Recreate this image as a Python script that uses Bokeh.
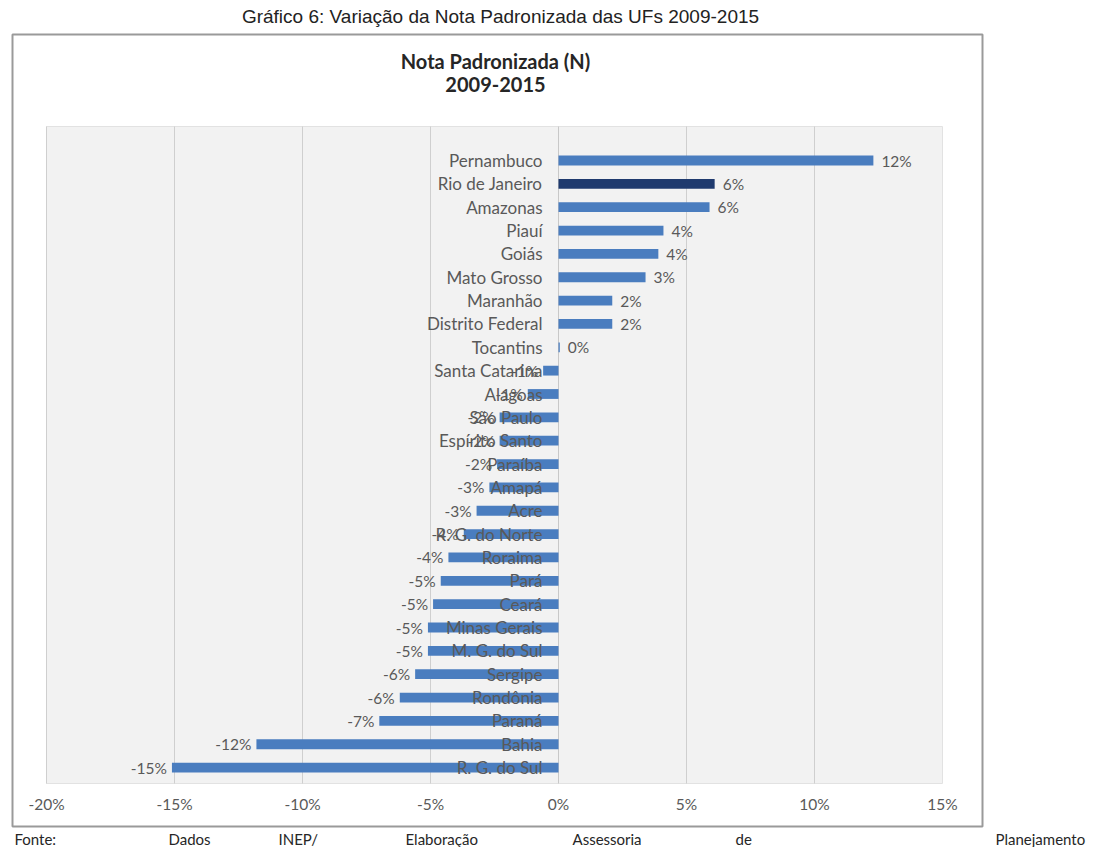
from bokeh.plotting import figure
from bokeh.models import Range1d, LinearAxis, FixedTicker, PrintfTickFormatter, BoxAnnotation, Label, ColumnDataSource
from bokeh.core.properties import value
from bokeh.embed import file_html
from bokeh.resources import INLINE

# ---------------- data ----------------
states = ["Pernambuco", "Rio de Janeiro", "Amazonas", "Piauí", "Goiás", "Mato Grosso",
          "Maranhão", "Distrito Federal", "Tocantins", "Santa Catarina", "Alagoas",
          "São Paulo", "Espírito Santo", "Paraíba", "Amapá", "Acre", "R. G. do Norte",
          "Roraima", "Pará", "Ceará", "Minas Gerais", "M. G. do Sul", "Sergipe",
          "Rondônia", "Paraná", "Bahia", "R. G. do Sul"]
variation = [12.3, 6.1, 5.9, 4.1, 3.9, 3.4, 2.1, 2.1, 0.05, -0.6, -1.2,
             -2.3, -2.3, -2.4, -2.7, -3.2, -3.7, -4.3, -4.6, -4.9, -5.1,
             -5.1, -5.6, -6.2, -7.0, -11.8, -15.1]
highlight = "Rio de Janeiro"
x_ticks = [-20, -15, -10, -5, 0, 5, 10, 15]
grid_ticks = [-20, -15, -10, -5, 5, 10]
caption = "Gráfico 6: Variação da Nota Padronizada das UFs 2009-2015"
title_lines = ["Nota Padronizada (N)", "2009-2015"]
footer_words = ["Fonte:", "Dados", "INEP/", "Elaboração", "Assessoria", "de", "Planejamento"]

# ---------------- layout constants (canvas pixels) ----------------
W, H = 1087, 847
BOX = (12, 982, 34, 826)                   # outer chart box: left, right, top, bottom
PX_X = 25.6                                # px per percent
ZERO_PX = 558                              # canvas x of 0%
ROW0_PX = 160                              # canvas y of first row
ROW_PX = 23.35                             # px per row


def X(px):
    return (px - ZERO_PX) / PX_X


def Y(py):
    return (py - ROW0_PX) / ROW_PX


gray_top = Y(126)
gray_bottom = Y(783)

BLUE = "#4a7dbf"
NAVY = "#1f3a6e"
TXT = "#595959"
FONT = "Lato"

ys = list(range(len(states)))
colors = [NAVY if s == highlight else BLUE for s in states]
labels = ["%d%%" % round(v) for v in variation]
pos = [v >= 0 for v in variation]

p = figure(width=W, height=H, output_backend="svg", toolbar_location=None,
           x_range=Range1d(X(0), X(W)), y_range=Range1d(Y(H), Y(0)),
           x_axis_location=None, y_axis_location=None,
           min_border=0, min_border_left=0, min_border_right=0,
           min_border_top=0, min_border_bottom=0)
p.xgrid.visible = False
p.ygrid.visible = False
p.outline_line_color = None
p.background_fill_color = "white"
p.border_fill_color = "white"

# outer chart box
p.add_layout(BoxAnnotation(left=X(BOX[0]), right=X(BOX[1]), top=Y(BOX[2]), bottom=Y(BOX[3]),
                           fill_color=None, line_color="#9a9a9a", line_alpha=1, line_width=2,
                           level="underlay"))
# plot area
p.add_layout(BoxAnnotation(left=x_ticks[0], right=x_ticks[-1], top=gray_top, bottom=gray_bottom,
                           fill_color="#f2f2f2", fill_alpha=1, line_color="#e2e2e2", line_alpha=1,
                           line_width=1, level="underlay"))
p.segment(x0=grid_ticks, x1=grid_ticks, y0=[gray_bottom] * len(grid_ticks),
          y1=[gray_top] * len(grid_ticks), line_color="#cfcfcf", line_width=1)
p.segment(x0=[0], x1=[0], y0=[gray_bottom], y1=[gray_top], line_color="#c8c8c8", line_width=1)

src = ColumnDataSource(dict(y=ys, v=variation, c=colors))
p.hbar(y="y", left=0, right="v", height=0.42, fill_color="c", line_color=None, source=src)

# category labels (drawn over the bars, as in the original)
p.text(x=[0] * len(states), y=ys, text=states, x_offset=-16, text_align="right",
       text_baseline="middle", text_font=value(FONT), text_font_size="17px", text_color=TXT)

# value labels
pos_src = ColumnDataSource(dict(y=[y for y, k in zip(ys, pos) if k],
                                v=[v for v, k in zip(variation, pos) if k],
                                lab=[l for l, k in zip(labels, pos) if k]))
neg_src = ColumnDataSource(dict(y=[y for y, k in zip(ys, pos) if not k],
                                v=[v for v, k in zip(variation, pos) if not k],
                                lab=[l for l, k in zip(labels, pos) if not k]))
p.text(x="v", y="y", text="lab", x_offset=8, text_align="left", text_baseline="middle",
       text_font=value(FONT), text_font_size="15.5px", text_color=TXT, source=pos_src)
p.text(x="v", y="y", text="lab", x_offset=-5, text_align="right", text_baseline="middle",
       text_font=value(FONT), text_font_size="15.5px", text_color=TXT, source=neg_src)

# x axis, drawn just under the plot area
xaxis = LinearAxis(ticker=FixedTicker(ticks=x_ticks), formatter=PrintfTickFormatter(format="%d%%"),
                   fixed_location=gray_bottom)
xaxis.axis_line_color = None
xaxis.major_tick_line_color = None
xaxis.minor_tick_line_color = None
xaxis.major_label_standoff = 5
xaxis.major_label_text_font = FONT
xaxis.major_label_text_font_size = "15.5px"
xaxis.major_label_text_color = TXT
p.add_layout(xaxis, "below")

# titles
p.add_layout(Label(x=X(500), y=Y(16), text=caption, text_align="center", text_baseline="middle",
                   text_font="Liberation Sans", text_font_size="19px", text_color="#222222"))
p.add_layout(Label(x=X(495), y=Y(60), text=title_lines[0], text_align="center", text_baseline="middle",
                   text_font=FONT, text_font_size="20px", text_font_style="bold", text_color="#262626"))
p.add_layout(Label(x=X(495), y=Y(84), text=title_lines[1], text_align="center", text_baseline="middle",
                   text_font=FONT, text_font_size="20px", text_font_style="bold", text_color="#262626"))

# footer, spread across the page width
footer_px = [14, 168, 278, 405, 572, 735, 995]
for word, fx in zip(footer_words, footer_px):
    p.add_layout(Label(x=X(fx), y=Y(838), text=word, text_align="left", text_baseline="middle",
                       text_font=FONT, text_font_size="15px", text_color="#262626"))

open("out.html", "w").write(file_html(p, INLINE))
